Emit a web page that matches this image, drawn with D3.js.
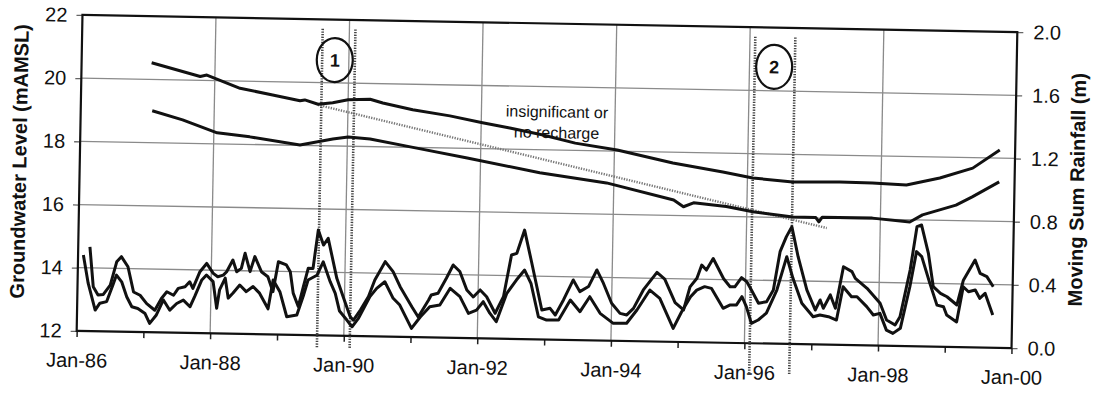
<!DOCTYPE html>
<html><head><meta charset="utf-8">
<script src="https://cdn.jsdelivr.net/npm/d3@7"></script>
<style>body{margin:0;background:#fff;} text{font-family:"Liberation Sans",Arial,sans-serif;fill:#111;}</style>
</head><body><svg id="c" width="1095" height="394"></svg>
<script>
// ---- data (decimal year, value) ----
const gwUpper = [[1987.05,20.53],[1987.78,20.12],[1987.88,20.17],[1988.38,19.77],[1988.87,19.58],[1989.28,19.41],[1989.35,19.44],[1989.55,19.31],[1989.77,19.37],[1990.0,19.47],[1990.33,19.50],[1990.52,19.39],[1990.97,19.19],[1991.53,19.02],[1992.02,18.82],[1992.43,18.67],[1992.93,18.47],[1993.41,18.23],[1994.04,18.04],[1994.88,17.66],[1995.63,17.40],[1996.08,17.23],[1996.68,17.13],[1997.38,17.15],[1997.87,17.14],[1998.38,17.10],[1998.88,17.34],[1999.37,17.67],[1999.77,18.26]];
const gwLower = [[1987.07,19.01],[1987.53,18.74],[1988.05,18.35],[1988.54,18.24],[1989.29,18.01],[1989.78,18.22],[1990.01,18.29],[1990.34,18.24],[1991.04,17.98],[1991.80,17.70],[1992.89,17.27],[1993.89,16.99],[1994.90,16.49],[1995.05,16.28],[1995.2,16.41],[1995.69,16.31],[1996.09,16.16],[1996.69,16.02],[1997.03,16.02],[1997.08,15.88],[1997.13,16.03],[1997.88,16.03],[1998.44,15.93],[1998.63,16.16],[1999.13,16.49],[1999.37,16.76],[1999.77,17.25]];
const trendLine = [[1989.55,19.29],[1997.2,15.69]];
const rainA = [[1986.175,.534],[1986.235,.282],[1986.31,.230],[1986.39,.234],[1986.49,.294],[1986.58,.442],[1986.65,.475],[1986.75,.412],[1986.84,.253],[1986.94,.233],[1987.04,.181],[1987.165,.140],[1987.26,.215],[1987.34,.258],[1987.44,.237],[1987.51,.281],[1987.61,.292],[1987.68,.324],[1987.73,.283],[1987.83,.389],[1987.93,.442],[1988.03,.380],[1988.10,.359],[1988.18,.370],[1988.23,.392],[1988.32,.467],[1988.38,.393],[1988.45,.415],[1988.50,.511],[1988.58,.395],[1988.65,.491],[1988.75,.396],[1988.85,.365],[1988.93,.271],[1989.00,.461],[1989.12,.442],[1989.18,.399],[1989.23,.264],[1989.31,.180],[1989.38,.306],[1989.45,.424],[1989.52,.423],[1989.59,.666],[1989.67,.572],[1989.74,.615],[1989.88,.363],[1989.98,.246],[1990.09,.122],[1990.14,.100],[1990.24,.165],[1990.36,.251],[1990.45,.357],[1990.60,.474],[1990.72,.412],[1990.83,.317],[1991.01,.192],[1991.11,.128],[1991.26,.236],[1991.30,.268],[1991.40,.280],[1991.52,.376],[1991.62,.461],[1991.72,.420],[1991.83,.304],[1991.93,.261],[1992.03,.306],[1992.13,.264],[1992.26,.160],[1992.38,.266],[1992.49,.531],[1992.57,.542],[1992.68,.690],[1992.79,.495],[1992.96,.186],[1993.08,.198],[1993.16,.156],[1993.28,.254],[1993.42,.380],[1993.52,.307],[1993.65,.340],[1993.77,.446],[1993.87,.363],[1994.00,.237],[1994.13,.174],[1994.23,.165],[1994.33,.207],[1994.47,.325],[1994.67,.438],[1994.79,.396],[1994.95,.249],[1995.08,.203],[1995.17,.350],[1995.27,.405],[1995.34,.489],[1995.41,.458],[1995.51,.532],[1995.67,.405],[1995.77,.355],[1995.84,.355],[1995.94,.414],[1996.02,.389],[1996.09,.337],[1996.20,.254],[1996.32,.265],[1996.42,.339],[1996.51,.583],[1996.60,.679],[1996.68,.742],[1996.78,.553],[1996.92,.344],[1997.05,.218],[1997.12,.282],[1997.17,.230],[1997.27,.315],[1997.35,.231],[1997.46,.495],[1997.59,.465],[1997.64,.423],[1997.82,.361],[1998.02,.268],[1998.12,.163],[1998.25,.132],[1998.32,.185],[1998.46,.482],[1998.55,.757],[1998.62,.768],[1998.73,.590],[1998.81,.379],[1998.92,.338],[1999.02,.317],[1999.17,.266],[1999.26,.424],[1999.43,.553],[1999.51,.469],[1999.61,.449],[1999.71,.386]];
const rainB = [[1986.08,.481],[1986.16,.303],[1986.27,.134],[1986.34,.178],[1986.44,.189],[1986.53,.294],[1986.58,.358],[1986.66,.316],[1986.74,.222],[1986.82,.159],[1986.91,.149],[1987.02,.118],[1987.09,.056],[1987.19,.110],[1987.29,.206],[1987.39,.142],[1987.49,.185],[1987.59,.207],[1987.69,.166],[1987.76,.232],[1987.86,.337],[1987.93,.369],[1988.03,.328],[1988.09,.160],[1988.13,.276],[1988.21,.351],[1988.26,.225],[1988.33,.256],[1988.43,.309],[1988.53,.268],[1988.63,.301],[1988.73,.260],[1988.86,.162],[1988.93,.345],[1989.03,.272],[1989.14,.114],[1989.29,.126],[1989.38,.245],[1989.45,.349],[1989.58,.380],[1989.67,.466],[1989.78,.341],[1989.86,.267],[1989.93,.156],[1990.04,.100],[1990.12,.058],[1990.21,.110],[1990.38,.251],[1990.48,.304],[1990.60,.347],[1990.73,.243],[1990.83,.201],[1991.01,.055],[1991.14,.128],[1991.28,.194],[1991.43,.206],[1991.58,.313],[1991.73,.261],[1991.86,.156],[1991.98,.178],[1992.08,.232],[1992.18,.160],[1992.28,.107],[1992.43,.288],[1992.57,.373],[1992.69,.437],[1992.79,.354],[1992.91,.143],[1993.03,.123],[1993.21,.125],[1993.38,.253],[1993.53,.180],[1993.67,.276],[1993.83,.172],[1994.03,.110],[1994.23,.112],[1994.38,.197],[1994.57,.325],[1994.72,.274],[1994.93,.085],[1995.05,.190],[1995.18,.287],[1995.27,.330],[1995.39,.353],[1995.49,.343],[1995.67,.218],[1995.77,.239],[1995.87,.241],[1995.95,.294],[1996.02,.231],[1996.10,.126],[1996.20,.148],[1996.32,.192],[1996.47,.340],[1996.61,.552],[1996.71,.416],[1996.85,.259],[1997.02,.175],[1997.12,.187],[1997.25,.177],[1997.37,.157],[1997.46,.368],[1997.59,.306],[1997.67,.307],[1997.82,.245],[1997.92,.193],[1998.02,.204],[1998.12,.099],[1998.22,.079],[1998.33,.112],[1998.46,.376],[1998.55,.599],[1998.63,.568],[1998.76,.400],[1998.87,.263],[1998.97,.253],[1999.02,.201],[1999.17,.159],[1999.26,.382],[1999.34,.351],[1999.44,.363],[1999.51,.311],[1999.59,.343],[1999.71,.207]];
const eventLines = [1989.60, 1990.09, 1996.08, 1996.68];
const eventMarks = [{label:"1", t:1989.79, v:20.72}, {label:"2", t:1996.37, v:20.76}];
const noteLines = ["insignificant or", "no recharge"];
const noteAt = {t:1993.13, v:19.21};
const leftTicks = [12,14,16,18,20,22];
const rightTicks = [0,0.4,0.8,1.2,1.6,2.0];
const leftTitle = "Groundwater Level (mAMSL)";
const rightTitle = "Moving Sum Rainfall (m)";

// ---- layout ----
const M = {left:79.5, top:23.5}, W = 935, H = 316;
const toDate = y => { const yr = Math.floor(y); return new Date(yr, 0, 1 + Math.round((y - yr) * 365)); };

const svg = d3.select("#c");
const root = svg.append("g").attr("transform", "rotate(1.05,547,181.5)");
const g = root.append("g").attr("transform", `translate(${M.left},${M.top})`);

const x = d3.scaleTime().domain([new Date(1986,0,1), new Date(2000,0,1)]).range([0, W]);
const yL = d3.scaleLinear().domain([12,22]).range([H,0]);
const yR = d3.scaleLinear().domain([0,2]).range([H,0]);

// grid
const gridColor = "#8a8a8a";
g.append("g").selectAll("line").data(leftTicks.slice(1,-1)).join("line")
  .attr("x1",0).attr("x2",W).attr("y1",d=>yL(d)).attr("y2",d=>yL(d))
  .attr("stroke",gridColor).attr("stroke-width",1.3);
const yearGrid = d3.range(1988, 2000, 2).map(y => new Date(y,0,1));
g.append("g").selectAll("line").data(yearGrid).join("line")
  .attr("x1",d=>x(d)).attr("x2",d=>x(d)).attr("y1",0).attr("y2",H)
  .attr("stroke",gridColor).attr("stroke-width",1.3);

// axes
const fmtY = d3.timeFormat("%y");
const ax = g.append("g").attr("transform",`translate(0,${H})`)
  .call(d3.axisBottom(x).ticks(d3.timeYear.every(1)).tickSize(6).tickPadding(16)
    .tickFormat(d => d.getFullYear() % 2 === 0 ? "Jan-" + fmtY(d) : ""));
const al = g.append("g").call(d3.axisLeft(yL).tickValues(leftTicks).tickSize(6).tickPadding(9).tickFormat(d3.format("d")));
const ar = g.append("g").attr("transform",`translate(${W},0)`)
  .call(d3.axisRight(yR).tickValues(rightTicks).tickSize(6).tickPadding(10).tickFormat(d3.format(".1f")));
[ax, al, ar].forEach(a => {
  a.select(".domain").remove();
  a.selectAll(".tick line").attr("stroke","#666").attr("stroke-width",1.3);
  a.selectAll("text").attr("font-size",20).attr("fill","#111").style("font-family","'Liberation Sans',Arial,sans-serif");
});
ax.selectAll(".tick line").attr("stroke","#222").attr("stroke-width",1.5);

// frame
g.append("rect").attr("x",0).attr("y",0).attr("width",W).attr("height",H)
  .attr("fill","none").attr("stroke","#111").attr("stroke-width",2.2);

// event dotted lines
g.append("g").selectAll("line").data(eventLines).join("line")
  .attr("x1",d=>x(toDate(d))).attr("x2",d=>x(toDate(d)))
  .attr("y1",yL(21.7)).attr("y2",(d,i)=> i < 2 ? H + 12 : H + 30)
  .attr("stroke","#444").attr("stroke-width",2.6).attr("stroke-dasharray","1.3,1.3");

// trend dotted
g.append("path").datum(trendLine)
  .attr("d", d3.line().x(d=>x(toDate(d[0]))).y(d=>yL(d[1])))
  .attr("fill","none").attr("stroke","#777").attr("stroke-width",2.4).attr("stroke-dasharray","1.3,1.3");

// groundwater lines
const lineL = d3.line().x(d=>x(toDate(d[0]))).y(d=>yL(d[1]));
const lineR = d3.line().x(d=>x(toDate(d[0]))).y(d=>yR(d[1]));
[gwUpper, gwLower].forEach(s => g.append("path").datum(s).attr("d", lineL)
  .attr("fill","none").attr("stroke","#111").attr("stroke-width",3).attr("stroke-linejoin","round"));
[rainA, rainB].forEach(s => g.append("path").datum(s).attr("d", lineR)
  .attr("fill","none").attr("stroke","#111").attr("stroke-width",3).attr("stroke-linejoin","round"));

// event markers
const em = g.append("g").selectAll("g").data(eventMarks).join("g")
  .attr("transform", d => `translate(${x(toDate(d.t))},${yL(d.v)})`);
em.append("ellipse").attr("rx",18).attr("ry",22).attr("fill","none").attr("stroke","#111").attr("stroke-width",2.2);
em.append("text").attr("text-anchor","middle").attr("dy","0.36em").attr("font-size",18).attr("font-weight","bold").text(d=>d.label);

// note
g.append("text").attr("x",x(toDate(noteAt.t))).attr("y",yL(noteAt.v)).attr("text-anchor","middle")
  .attr("font-size",16).selectAll("tspan").data(noteLines).join("tspan")
  .attr("x",x(toDate(noteAt.t))).attr("dy",(d,i)=> i===0 ? "0.35em" : "1.3em").text(d=>d);

// titles
root.append("text").attr("transform","translate(26,171) rotate(-90)").attr("text-anchor","middle")
  .attr("font-size",20).attr("font-weight","bold").text(leftTitle);
root.append("text").attr("transform","translate(1084,180) rotate(-90)").attr("text-anchor","middle")
  .attr("font-size",20).attr("font-weight","bold").text(rightTitle);
</script></body></html>
